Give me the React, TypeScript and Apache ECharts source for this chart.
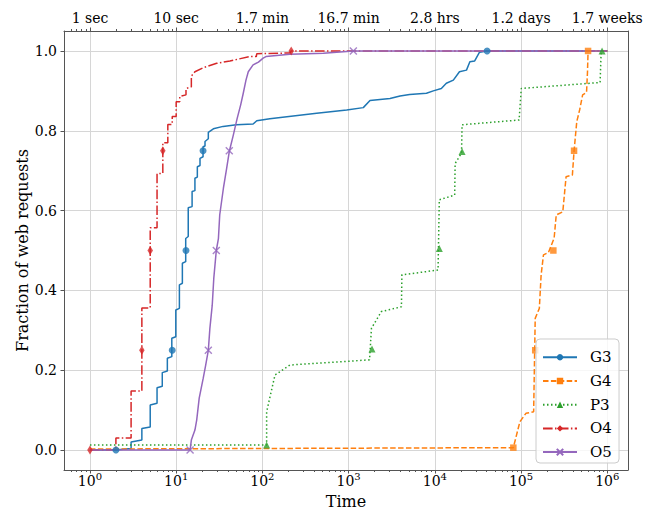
import React, { useEffect, useRef } from 'react';
import * as echarts from 'echarts';

const FONT = 'DejaVu Serif';
const DECADES = [1, 10, 100, 1000, 10000, 100000, 1000000];
const TOP_LABELS = ['1 sec', '10 sec', '1.7 min', '16.7 min', '2.8 hrs', '1.2 days', '1.7 weeks'];
const MINOR_MULTIPLES = [2, 3, 4, 5, 6, 7, 8, 9];
const Y_TICKS = [0, 0.2, 0.4, 0.6, 0.8, 1.0];
const X_MIN = 0.5;
const X_MAX = 1.74e6;

const NAMES = ['G3', 'G4', 'P3', 'O4', 'O5'];
const COLORS = ['#1f77b4', '#ff7f0e', '#2ca02c', '#d62728', '#9467bd'];

// G3
const G3_X = [1, 2, 3, 3, 4, 4, 5, 5, 6, 6, 6.9, 6.9, 7.9, 7.9, 8.9, 8.9, 9.9, 9.9, 10.9, 10.9, 11.8, 11.8, 12.9, 12.9, 13.8, 13.8, 15.3, 15.3, 16.5, 16.5, 17.6, 17.6, 18.9, 18.9, 20.5, 20.5, 21.6, 21.6, 23.6, 23.6, 27, 35, 50, 78, 86, 122, 426, 950, 1480, 1770, 3020, 3950, 5100, 8000, 9600, 11900, 13600, 16400, 19300, 23300, 25500, 29000, 33000, 40400, 1000000];
const G3_Y = [0, 0, 0.004, 0.02, 0.025, 0.054, 0.058, 0.113, 0.117, 0.156, 0.16, 0.194, 0.198, 0.23, 0.234, 0.28, 0.284, 0.351, 0.355, 0.414, 0.418, 0.468, 0.472, 0.53, 0.535, 0.607, 0.61, 0.648, 0.65, 0.681, 0.684, 0.71, 0.713, 0.731, 0.735, 0.76, 0.762, 0.773, 0.78, 0.796, 0.805, 0.811, 0.815, 0.817, 0.825, 0.83, 0.844, 0.852, 0.858, 0.876, 0.881, 0.887, 0.891, 0.894, 0.9, 0.906, 0.919, 0.927, 0.948, 0.952, 0.973, 0.975, 0.997, 1.0, 1.0];
const G3_MARK_X = [2, 9, 13, 20.5, 40400];
const G3_MARK_Y = [0, 0.25, 0.5, 0.75, 1.0];

// G4
const G4_X = [1, 81400, 97000, 114000, 140000, 146000, 163000, 171000, 182000, 208000, 242000, 256000, 305000, 333000, 394000, 412000, 443000, 478000, 518000, 575000, 590000, 599000, 1000000];
const G4_Y = [0.0025, 0.006, 0.071, 0.092, 0.096, 0.33, 0.355, 0.439, 0.489, 0.495, 0.531, 0.589, 0.597, 0.685, 0.689, 0.749, 0.823, 0.852, 0.89, 0.896, 0.948, 1.0, 1.0];
const G4_MARK_X = [81400, 146000, 237000, 412000, 599000];
const G4_MARK_Y = [0.006, 0.25, 0.5, 0.75, 1.0];

// P3
const P3_X = [1, 112, 112, 140, 208, 1750, 1840, 2400, 4100, 4150, 10900, 11270, 17000, 17200, 20400, 20700, 95000, 100600, 826000, 850000, 1000000];
const P3_Y = [0.0125, 0.0125, 0.096, 0.188, 0.213, 0.226, 0.305, 0.347, 0.359, 0.439, 0.451, 0.627, 0.639, 0.718, 0.744, 0.815, 0.827, 0.906, 0.921, 1.0, 1.0];
const P3_MARK_X = [112, 1868, 11270, 20690, 871000];
const P3_MARK_Y = [0.0125, 0.253, 0.505, 0.748, 1.0];

// O4
const O4_X = [1, 2, 2, 3, 3, 4, 4, 5, 5, 6, 6, 7, 7, 8, 8, 9, 9, 10, 10, 11, 11, 13, 13, 15, 15, 16.5, 20.6, 29.5, 42, 72, 85, 86, 210, 216, 1000000];
const O4_Y = [0, 0, 0.03, 0.03, 0.148, 0.148, 0.356, 0.356, 0.557, 0.557, 0.693, 0.693, 0.77, 0.77, 0.816, 0.816, 0.836, 0.836, 0.873, 0.873, 0.886, 0.89, 0.906, 0.91, 0.937, 0.948, 0.958, 0.969, 0.975, 0.986, 0.986, 0.993, 0.995, 1.0, 1.0];
const O4_MARK_X = [1, 4, 5, 7, 216];
const O4_MARK_Y = [0, 0.25, 0.5, 0.75, 1.0];

// O5
const O5_X = [1, 14.5, 15, 16.5, 17.3, 18.5, 20.6, 22, 23.6, 24.6, 26.2, 27.3, 29.2, 30.9, 32, 35.3, 38.5, 41.3, 46, 51, 56, 60, 64.5, 68.6, 78, 90, 102, 110, 208, 510, 1135, 1000000];
const O5_Y = [0, 0, 0.025, 0.05, 0.075, 0.13, 0.18, 0.213, 0.25, 0.305, 0.363, 0.43, 0.5, 0.53, 0.589, 0.656, 0.706, 0.748, 0.789, 0.831, 0.865, 0.894, 0.927, 0.948, 0.965, 0.972, 0.982, 0.986, 0.992, 0.994, 1.0, 1.0];
const O5_MARK_X = [14.5, 23.6, 29.2, 41.3, 1135];
const O5_MARK_Y = [0, 0.25, 0.5, 0.75, 1.0];

const LINES_X = [G3_X, G4_X, P3_X, O4_X, O5_X];
const LINES_Y = [G3_Y, G4_Y, P3_Y, O4_Y, O5_Y];
const MARKS_X = [G3_MARK_X, G4_MARK_X, P3_MARK_X, O4_MARK_X, O5_MARK_X];
const MARKS_Y = [G3_MARK_Y, G4_MARK_Y, P3_MARK_Y, O4_MARK_Y, O5_MARK_Y];

const X_PATH = 'path://M0,0L10,10M0,10L10,0';
const SYMBOLS = ['circle', 'rect', 'triangle', 'diamond', X_PATH];
const SYMBOL_SIZES: any[] = [7, 6.5, 7, [5.5, 9], 7];
const DASHES: any[] = ['solid', [5.5, 2.4], [1.5, 2.5], [9.6, 2.4, 1.5, 2.4], 'solid'];

const zip = (xs: number[], ys: number[]) => xs.map((x, i) => [x, ys[i]]);

function buildOption() {
  const minors: number[] = [];
  for (let e = -1; e <= 6; e++) {
    for (const m of MINOR_MULTIPLES) {
      const v = m * Math.pow(10, e);
      if (v > X_MIN && v < X_MAX) minors.push(v);
    }
  }
  const axisLineStyle = { color: '#555', width: 1 };
  const series: any[] = [];
  NAMES.forEach((name, i) => {
    const isX = i === 4;
    const itemStyle = isX
      ? { color: COLORS[i], borderColor: COLORS[i], borderWidth: 1.4 }
      : { color: COLORS[i] };
    series.push({
      type: 'line',
      name,
      xAxisIndex: 0,
      yAxisIndex: 0,
      data: zip(LINES_X[i], LINES_Y[i]),
      showSymbol: false,
      symbol: SYMBOLS[i],
      symbolSize: SYMBOL_SIZES[i],
      lineStyle: { color: COLORS[i], width: 1.5, type: DASHES[i] },
      itemStyle,
      emphasis: { disabled: true },
      z: 2,
    });
    series.push({
      type: 'scatter',
      name: name + ' markers',
      xAxisIndex: 0,
      yAxisIndex: 0,
      data: zip(MARKS_X[i], MARKS_Y[i]),
      symbol: SYMBOLS[i],
      symbolSize: SYMBOL_SIZES[i],
      itemStyle,
      emphasis: { disabled: true },
      z: 2,
    });
  });

  const gridRect = { left: 64, right: 27, top: 31, bottom: 40, containLabel: false, outerBoundsMode: 'none' };
  return {
    animation: false,
    textStyle: { fontFamily: FONT },
    grid: [gridRect, { ...gridRect }],
    legend: {
      data: NAMES,
      orient: 'vertical',
      left: 536,
      top: 339,
      itemWidth: 34,
      itemHeight: 8,
      itemGap: 7.7,
      padding: [10.3, 7.2, 2.9, 6],
      backgroundColor: 'rgba(255,255,255,0.8)',
      borderColor: '#cccccc',
      borderWidth: 1,
      borderRadius: 4,
      formatter: '{t|{name}}',
      textStyle: {
        fontFamily: FONT,
        fontSize: 15,
        color: '#000',
        lineHeight: 16,
        rich: { t: { fontFamily: FONT, fontSize: 15, color: '#000', lineHeight: 16, padding: [0, 0, 0, 8] } },
      },
    },
    xAxis: [
      {
        type: 'log',
        gridIndex: 0,
        position: 'bottom',
        min: X_MIN,
        max: X_MAX,
        name: 'Time',
        nameLocation: 'middle',
        nameGap: 23,
        nameMoveOverlap: false,
        nameTextStyle: { fontFamily: FONT, fontSize: 16, color: '#000', verticalAlign: 'top' },
        axisLine: { show: true, onZero: false, lineStyle: axisLineStyle },
        axisTick: { show: true, customValues: DECADES, length: 3.5, lineStyle: axisLineStyle },
        axisLabel: {
          customValues: DECADES,
          margin: 4,
          formatter: (v: number) => `{b|10}{s|${Math.round(Math.log10(v))}}`,
          rich: {
            b: { fontFamily: FONT, fontSize: 14, color: '#000', lineHeight: 14 },
            s: { fontFamily: FONT, fontSize: 10, color: '#000', lineHeight: 10, padding: [0, 0, 9, 0] },
          },
        },
        splitLine: { show: true, lineStyle: { color: '#d6d6d6', width: 1 } },
      },
      {
        type: 'log',
        gridIndex: 0,
        position: 'top',
        min: X_MIN,
        max: X_MAX,
        axisLine: { show: true, onZero: false, lineStyle: axisLineStyle },
        axisTick: { show: true, customValues: DECADES, length: 3.5, lineStyle: axisLineStyle },
        axisLabel: {
          customValues: DECADES,
          margin: 6,
          fontFamily: FONT,
          fontSize: 14,
          color: '#000',
          formatter: (v: number) => TOP_LABELS[Math.round(Math.log10(v))],
        },
        splitLine: { show: false },
      },
      {
        type: 'log',
        gridIndex: 1,
        position: 'bottom',
        min: X_MIN,
        max: X_MAX,
        axisLine: { show: false, onZero: false },
        axisTick: { show: true, customValues: minors, length: 2, lineStyle: axisLineStyle },
        axisLabel: { show: false },
        splitLine: { show: false },
      },
      {
        type: 'log',
        gridIndex: 1,
        position: 'top',
        min: X_MIN,
        max: X_MAX,
        axisLine: { show: false, onZero: false },
        axisTick: { show: true, customValues: minors, length: 2, lineStyle: axisLineStyle },
        axisLabel: { show: false },
        splitLine: { show: false },
      },
    ],
    yAxis: [
      {
        type: 'value',
        gridIndex: 0,
        position: 'left',
        min: -0.05,
        max: 1.05,
        name: 'Fraction of web requests',
        nameLocation: 'middle',
        nameGap: 34,
        nameMoveOverlap: false,
        nameTextStyle: { fontFamily: FONT, fontSize: 16, color: '#000' },
        axisLine: { show: true, onZero: false, lineStyle: axisLineStyle },
        axisTick: { show: true, customValues: Y_TICKS, length: 3.5, lineStyle: axisLineStyle },
        axisLabel: {
          customValues: Y_TICKS,
          margin: 7,
          fontFamily: FONT,
          fontSize: 14,
          color: '#000',
          formatter: (v: number) => v.toFixed(1),
        },
        splitLine: { show: true, lineStyle: { color: '#d6d6d6', width: 1 } },
      },
      {
        type: 'value',
        gridIndex: 0,
        position: 'right',
        min: -0.05,
        max: 1.05,
        axisLine: { show: true, onZero: false, lineStyle: axisLineStyle },
        axisTick: { show: false },
        axisLabel: { show: false },
        splitLine: { show: false },
      },
      {
        type: 'value',
        gridIndex: 1,
        min: -0.05,
        max: 1.05,
        show: false,
      },
    ],
    series,
  };
}

export default function App() {
  const ref = useRef<HTMLDivElement>(null);
  useEffect(() => {
    if (!ref.current) return;
    const chart = echarts.init(ref.current, null, { renderer: 'svg' });
    chart.setOption(buildOption() as any);
    return () => chart.dispose();
  }, []);
  return (
    <div
      ref={ref}
      style={{ position: 'absolute', left: 0, top: 0, width: 655, height: 510, background: '#fff' }}
    />
  );
}
